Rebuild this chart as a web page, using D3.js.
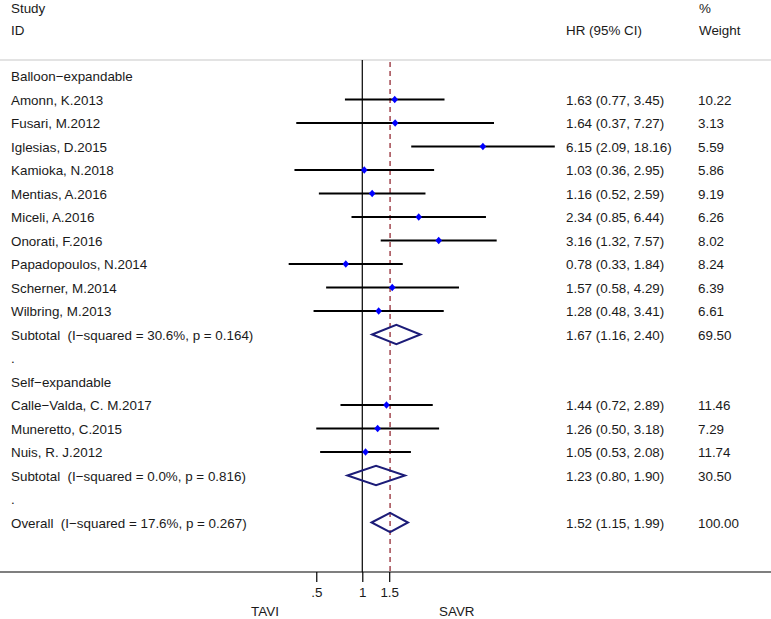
<!DOCTYPE html>
<html><head><meta charset="utf-8">
<script src="https://cdn.jsdelivr.net/npm/d3@7"></script>
<style>
body{margin:0;background:#fff}
text{font-family:"Liberation Sans",Arial,Helvetica,sans-serif;font-size:13.4px;fill:#1a1a1a;white-space:pre}
</style>
</head><body>
<svg id="chart" width="771" height="619"></svg>
<script>
// ---- data ----
const groupNames = ["Balloon−expandable", "Self−expandable"];
const studyNames = ["Amonn, K.2013","Fusari, M.2012","Iglesias, D.2015","Kamioka, N.2018","Mentias, A.2016","Miceli, A.2016","Onorati, F.2016","Papadopoulos, N.2014","Scherner, M.2014","Wilbring, M.2013","Calle−Valda, C. M.2017","Muneretto, C.2015","Nuis, R. J.2012"];
const studyGroup = [0,0,0,0,0,0,0,0,0,0,1,1,1];
const studyHR = [1.63,1.64,6.15,1.03,1.16,2.34,3.16,0.78,1.57,1.28,1.44,1.26,1.05];
const studyLo = [0.77,0.37,2.09,0.36,0.52,0.85,1.32,0.33,0.58,0.48,0.72,0.50,0.53];
const studyHi = [3.45,7.27,18.16,2.95,2.59,6.44,7.57,1.84,4.29,3.41,2.89,3.18,2.08];
const studyWeight = ["10.22","3.13","5.59","5.86","9.19","6.26","8.02","8.24","6.39","6.61","11.46","7.29","11.74"];
const subtotalLabels = ["Subtotal  (I−squared = 30.6%, p = 0.164)","Subtotal  (I−squared = 0.0%, p = 0.816)"];
const subtotalHR = [1.67,1.23];
const subtotalLo = [1.16,0.80];
const subtotalHi = [2.40,1.90];
const subtotalWeight = ["69.50","30.50"];
const overallLabel = "Overall  (I−squared = 17.6%, p = 0.267)";
const overallHR = 1.52, overallLo = 1.15, overallHi = 1.99, overallWeight = "100.00";
const tickValues = [0.5, 1, 1.5];
const tickLabels = [".5", "1", "1.5"];
const sideLabels = ["TAVI", "SAVR"];
const sideLabelValues = [0.231, 4.15];

// ---- build rows ----
const rows = [];
groupNames.forEach((g, gi) => {
  rows.push({type:"group", label:g});
  studyNames.forEach((s, i) => {
    if (studyGroup[i] === gi) rows.push({type:"study", label:s, hr:studyHR[i], lo:studyLo[i], hi:studyHi[i], w:studyWeight[i]});
  });
  rows.push({type:"pooled", label:subtotalLabels[gi], hr:subtotalHR[gi], lo:subtotalLo[gi], hi:subtotalHi[gi], w:subtotalWeight[gi]});
  rows.push({type:"dot", label:"."});
});
rows.push({type:"pooled", label:overallLabel, hr:overallHR, lo:overallLo, hi:overallHi, w:overallWeight});
rows.forEach((r, i) => r.idx = i);

const fmt = d3.format(".2f");

// ---- scales ----
const W = 771;
const x = d3.scaleLog().domain([0.1, 20]).range([209.4, 561.2]);
const y = d3.scaleLinear().domain([0, rows.length - 1]).range([76, 522.5]);
const topY = 60, axisY = 572;

const svg = d3.select("#chart");

// header
const hdr = svg.append("g");
hdr.append("text").attr("x", 11).attr("y", 13).text("Study");
hdr.append("text").attr("x", 11).attr("y", 35).text("ID");
hdr.append("text").attr("x", 566).attr("y", 35).text("HR (95% CI)");
hdr.append("text").attr("x", 699).attr("y", 13).text("%");
hdr.append("text").attr("x", 699).attr("y", 35).text("Weight");
svg.append("line").attr("x1", 0).attr("x2", W).attr("y1", topY).attr("y2", topY)
  .attr("stroke", "#c8c8c8").attr("stroke-width", 1.2);

// reference lines
svg.append("line").attr("x1", x(1)).attr("x2", x(1)).attr("y1", topY).attr("y2", axisY)
  .attr("stroke", "#000").attr("stroke-width", 1.2);
svg.append("line").attr("x1", x(overallHR)).attr("x2", x(overallHR)).attr("y1", topY + 2).attr("y2", axisY)
  .attr("stroke", "#a8525a").attr("stroke-width", 1.6).attr("stroke-dasharray", "5,4");

// rows
const rg = svg.selectAll("g.row").data(rows).enter().append("g").attr("class", "row");
rg.append("text").attr("x", 11).attr("y", d => y(d.idx) + 5).text(d => d.label);
const valued = rg.filter(d => d.type === "study" || d.type === "pooled");
valued.append("text").attr("x", 566).attr("y", d => y(d.idx) + 5)
  .text(d => `${fmt(d.hr)} (${fmt(d.lo)}, ${fmt(d.hi)})`);
valued.append("text").attr("x", 698).attr("y", d => y(d.idx) + 5).text(d => d.w);

// study CI lines + markers
const st = rg.filter(d => d.type === "study");
st.append("line")
  .attr("x1", d => x(d.lo)).attr("x2", d => x(d.hi))
  .attr("y1", d => y(d.idx)).attr("y2", d => y(d.idx))
  .attr("stroke", "#000").attr("stroke-width", 2);
st.append("path")
  .attr("d", d => { const cx = x(d.hr), cy = y(d.idx); return `M${cx-3.3},${cy}L${cx},${cy-3.8}L${cx+3.3},${cy}L${cx},${cy+3.8}Z`; })
  .attr("fill", "#0000ff");

// pooled diamonds
rg.filter(d => d.type === "pooled").append("path")
  .attr("d", d => { const cy = y(d.idx); return `M${x(d.lo)},${cy}L${x(d.hr)},${cy-9.6}L${x(d.hi)},${cy}L${x(d.hr)},${cy+9.6}Z`; })
  .attr("fill", "none").attr("stroke", "#1c1c78").attr("stroke-width", 2);

// axis
svg.append("line").attr("x1", 0).attr("x2", W).attr("y1", axisY).attr("y2", axisY)
  .attr("stroke", "#000").attr("stroke-width", 1.2);
const axis = d3.axisBottom(x).tickValues(tickValues).tickSize(10).tickPadding(5)
  .tickFormat((d, i) => tickLabels[i]);
const ag = svg.append("g").attr("transform", `translate(0,${axisY})`).call(axis);
ag.select(".domain").remove();
ag.attr("font-size", null).attr("font-family", null);
ag.selectAll(".tick line").attr("stroke", "#000").attr("stroke-width", 1.2);
ag.selectAll(".tick text").attr("fill", "#1a1a1a");

svg.selectAll("text.side").data(sideLabels).enter().append("text").attr("class", "side")
  .attr("x", (d, i) => x(sideLabelValues[i])).attr("y", 616).attr("text-anchor", "middle").text(d => d);
</script>
</body></html>
